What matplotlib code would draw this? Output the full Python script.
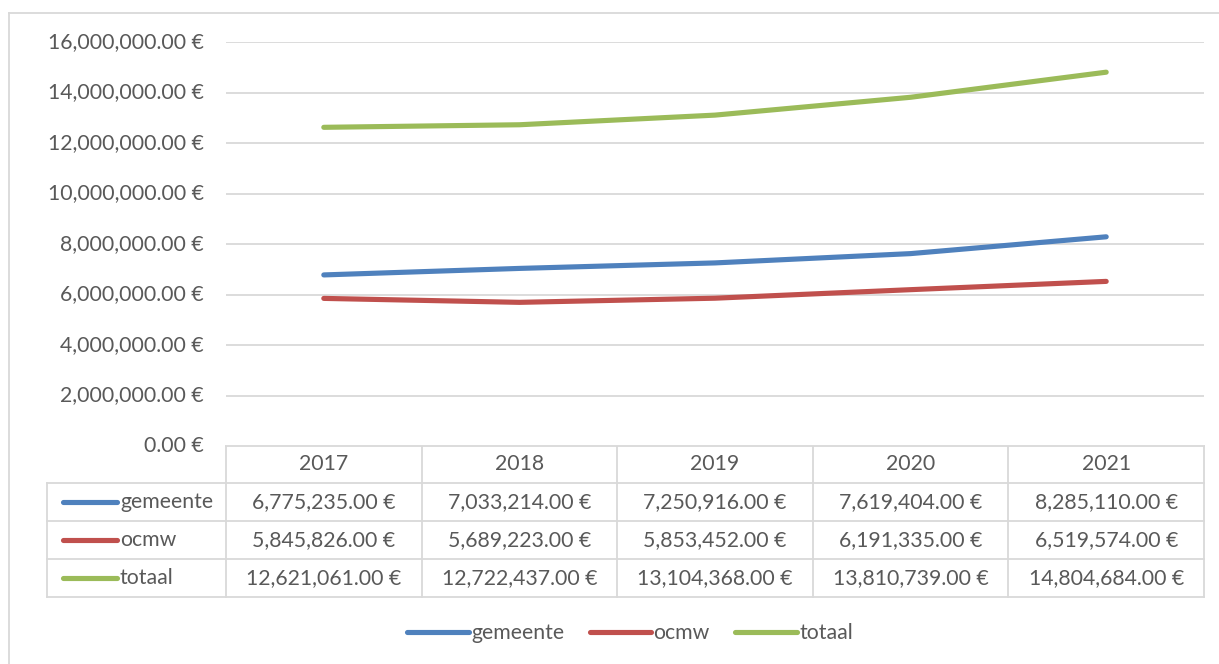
import matplotlib
matplotlib.use('Agg')
import matplotlib.pyplot as plt
from matplotlib.transforms import blended_transform_factory
from matplotlib.ticker import FuncFormatter

# data
jaren = ['2017', '2018', '2019', '2020', '2021']
gemeente = [6775235.00, 7033214.00, 7250916.00, 7619404.00, 8285110.00]
ocmw = [5845826.00, 5689223.00, 5853452.00, 6191335.00, 6519574.00]
totaal = [12621061.00, 12722437.00, 13104368.00, 13810739.00, 14804684.00]

reeksen = [('gemeente', gemeente, '#4f81bd'),
           ('ocmw', ocmw, '#c0504d'),
           ('totaal', totaal, '#9bbb59')]

plt.rcParams['font.family'] = ['Lato', 'DejaVu Sans']
tekst = '#595959'
raster = '#d9d9d9'
fs = 15.3


def euro(v, pos=None):
    return '{:,.2f} €'.format(v)


W, H = 1219, 664
fig = plt.figure(figsize=(W / 100, H / 100), dpi=100)

# overlay in pixel coords for border / table
ov = fig.add_axes([0, 0, 1, 1])
ov.set_xlim(0, W)
ov.set_ylim(H, 0)
ov.axis('off')

ax = fig.add_axes([226 / W, 1 - 446 / H, (1204 - 226) / W, (446 - 42) / H])
x = list(range(len(jaren)))
for naam, vals, kleur in reeksen:
    ax.plot(x, vals, color=kleur, lw=3.7, solid_capstyle='round', label=naam)

ax.set_xlim(-0.5, len(jaren) - 0.5)
ax.set_ylim(0, 16000000)
ax.set_yticks(range(0, 16000001, 2000000))
ax.yaxis.set_major_formatter(FuncFormatter(euro))
ax.tick_params(axis='y', length=0, pad=16, labelsize=fs, labelcolor=tekst)
ax.tick_params(axis='x', length=0, labelbottom=False)
ax.grid(axis='y', color=raster, lw=1.3)
ax.set_axisbelow(True)
for s in ax.spines.values():
    s.set_visible(False)
for lbl in ax.get_yticklabels():
    lbl.set_verticalalignment('center')

# chart border
ov.plot([9, W], [13, 13], color=raster, lw=1.3)
ov.plot([9, 9], [13, H], color=raster, lw=1.3)

# data table
tr = blended_transform_factory(ax.transData, ov.transData)
rij_top = [446, 483, 521, 559, 597]
links = 47
for i in range(len(jaren) + 1):
    ov.plot([i - 0.5, i - 0.5], [446, 597], color=raster, lw=1.3, transform=tr)
ov.plot([links, links], [483, 597], color=raster, lw=1.3)
ov.plot([-0.5, len(jaren) - 0.5], [446, 446], color=raster, lw=1.3, transform=tr)
for y in rij_top[1:]:
    ov.plot([links, 1204], [y, y], color=raster, lw=1.3)

for i, j in enumerate(jaren):
    ov.text(i, (446 + 483) / 2, j, transform=tr, ha='center', va='center',
            fontsize=fs, color=tekst)

for r, (naam, vals, kleur) in enumerate(reeksen):
    yc = (rij_top[r + 1] + rij_top[r + 2]) / 2
    ov.plot([63, 117], [yc, yc], color=kleur, lw=3.7, solid_capstyle='round')
    ov.text(120, yc, naam, ha='left', va='center', fontsize=fs, color=tekst)
    for i, v in enumerate(vals):
        ov.text(i, yc, euro(v), transform=tr, ha='center', va='center',
                fontsize=fs, color=tekst)

leg = fig.legend(loc='center', bbox_to_anchor=(630 / W, 1 - 633 / H), ncol=3,
                 frameon=False, fontsize=fs, handlelength=2.9, handletextpad=0.1,
                 columnspacing=1.2, labelcolor=tekst)

fig.savefig('out.png', dpi=100, facecolor='white')
